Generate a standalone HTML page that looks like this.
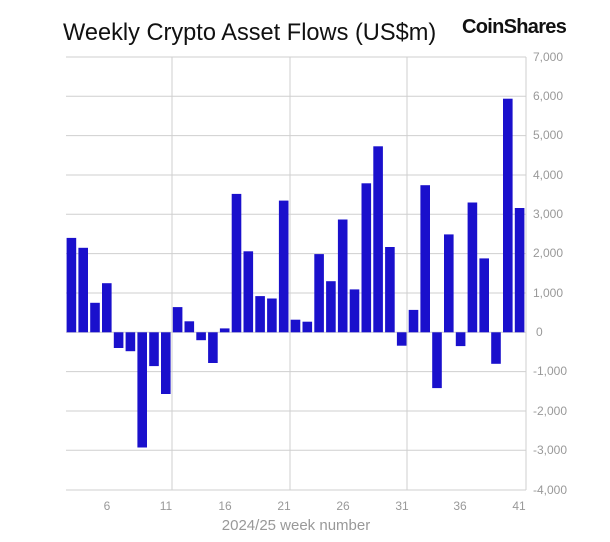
<!DOCTYPE html>
<html><head><meta charset="utf-8"><style>
body{margin:0;background:#fff;width:610px;height:537px;overflow:hidden;font-family:"Liberation Sans",sans-serif}
</style></head><body>
<svg width="610" height="537" xmlns="http://www.w3.org/2000/svg" font-family="Liberation Sans, sans-serif">
<text x="63" y="40" font-size="23.6" fill="#111">Weekly Crypto Asset Flows (US$m)</text>
<text x="462" y="33" font-size="20" font-weight="bold" fill="#111" letter-spacing="-0.7">CoinShares</text>
<g stroke="#cfcfcf" stroke-width="1">
<line x1="66" x2="526" y1="57" y2="57"/><line x1="66" x2="526" y1="96.3" y2="96.3"/>
<line x1="66" x2="526" y1="135.6" y2="135.6"/><line x1="66" x2="526" y1="175" y2="175"/>
<line x1="66" x2="526" y1="214.3" y2="214.3"/><line x1="66" x2="526" y1="253.6" y2="253.6"/>
<line x1="66" x2="526" y1="293" y2="293"/><line x1="66" x2="526" y1="332.3" y2="332.3"/>
<line x1="66" x2="526" y1="371.6" y2="371.6"/><line x1="66" x2="526" y1="411" y2="411"/>
<line x1="66" x2="526" y1="450.3" y2="450.3"/><line x1="66" x2="526" y1="490" y2="490"/>
<line x1="172" x2="172" y1="57" y2="490"/><line x1="290" x2="290" y1="57" y2="490"/>
<line x1="407" x2="407" y1="57" y2="490"/><line x1="526" x2="526" y1="57" y2="490"/>
</g>
<g id="bars" fill="#1a10cc"></g>
<g font-size="12" fill="#999">
<text x="533" y="61">7,000</text><text x="533" y="100">6,000</text><text x="533" y="139">5,000</text>
<text x="533" y="179">4,000</text><text x="533" y="218">3,000</text><text x="533" y="257">2,000</text>
<text x="533" y="297">1,000</text><text x="536" y="336">0</text><text x="533" y="375">-1,000</text>
<text x="533" y="415">-2,000</text><text x="533" y="454">-3,000</text><text x="533" y="494">-4,000</text>
</g>
<g font-size="12" fill="#999" text-anchor="middle">
<text x="107" y="510">6</text><text x="166" y="510">11</text><text x="225" y="510">16</text>
<text x="284" y="510">21</text><text x="343" y="510">26</text><text x="402" y="510">31</text>
<text x="460" y="510">36</text><text x="519" y="510">41</text>
</g>
<text x="296" y="530" font-size="15" fill="#999" text-anchor="middle">2024/25 week number</text>
</svg>
<script>
var v=[2400,2150,750,1250,-400,-480,-2930,-860,-1570,640,280,-200,-780,100,3520,2060,920,860,3350,320,270,1990,1300,2870,1090,3790,4730,2170,-340,570,3740,-1420,2490,-350,3300,1880,-800,5940,3160];
var g=document.getElementById('bars'),s='',z=332.3,k=0.03932,w=460/39;
v.forEach(function(d,i){var x=66+i*w+0.6,h=Math.abs(d)*k,y=d>0?z-h:z;
s+='<rect x="'+x.toFixed(1)+'" y="'+y.toFixed(1)+'" width="9.6" height="'+h.toFixed(1)+'"/>';});
g.innerHTML=s;
</script>
</body></html>
